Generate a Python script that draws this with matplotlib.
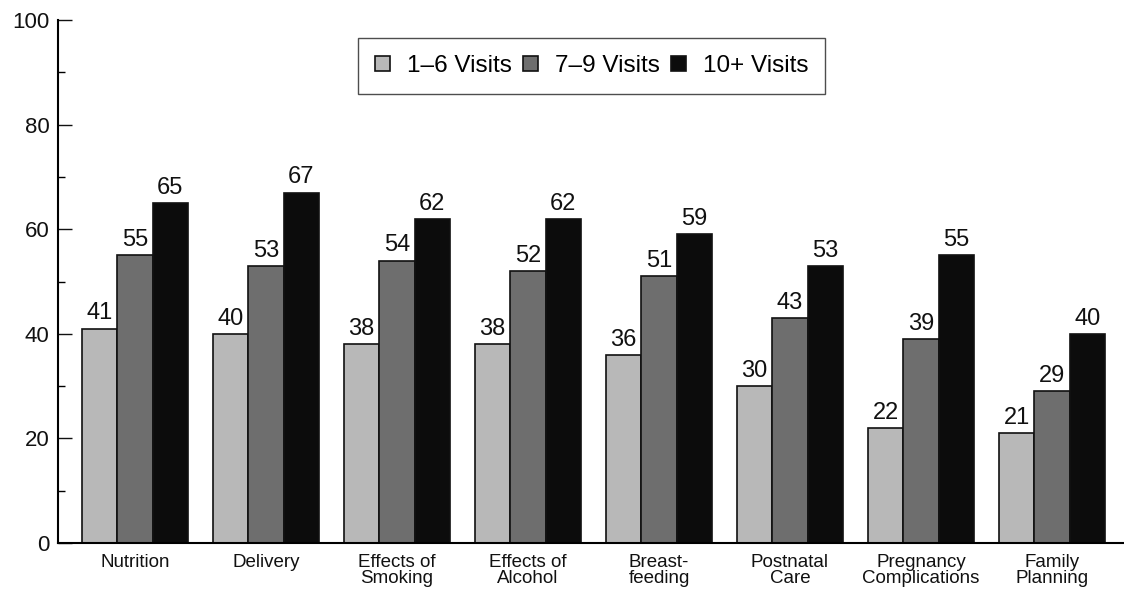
import matplotlib
matplotlib.use("Agg")
import matplotlib.pyplot as plt
import numpy as np

plt.rcParams['font.family'] = ['Liberation Sans', 'DejaVu Sans']

categories = ["Nutrition", "Delivery", "Effects of\nSmoking", "Effects of\nAlcohol",
              "Breast-\nfeeding", "Postnatal\nCare", "Pregnancy\nComplications",
              "Family\nPlanning"]
series_names = ["1\u20136 Visits", "7\u20139 Visits", "10+ Visits"]
visits_1_6 = [41, 40, 38, 38, 36, 30, 22, 21]
visits_7_9 = [55, 53, 54, 52, 51, 43, 39, 29]
visits_10p = [65, 67, 62, 62, 59, 53, 55, 40]
colors = ["#b8b8b8", "#6e6e6e", "#0c0c0c"]

fig = plt.figure(figsize=(11.24, 5.93), dpi=100)
ax = fig.add_axes([58 / 1124, 50 / 593, (1124 - 58) / 1124, 523 / 593])

x = np.arange(len(categories))
width = 0.27
for k, (vals, name, col) in enumerate(zip([visits_1_6, visits_7_9, visits_10p],
                                          series_names, colors)):
    pos = x + (k - 1) * width
    ax.bar(pos, vals, width, color=col, edgecolor="#111111",
           linewidth=1.2, label=name)
    for xi, v in zip(pos, vals):
        ax.text(xi, v + 0.8, str(v), ha="center", va="bottom", fontsize=17,
                color="#111111")

ax.set_xlim(-0.588, 7.55)
ax.set_ylim(0, 100)
ax.set_yticks(np.arange(0, 101, 20))
ax.set_yticks(np.arange(10, 100, 20), minor=True)
ax.tick_params(axis="y", which="major", direction="in", length=10, width=1,
               labelsize=16, pad=6, colors="#111111")
ax.tick_params(axis="y", which="minor", direction="in", length=5, width=1)
ax.set_xticks(x)
ax.set_xticklabels(categories, fontsize=13.5, linespacing=0.92)
ax.tick_params(axis="x", length=0, pad=8, colors="#111111")
for s in ["top", "right"]:
    ax.spines[s].set_visible(False)
ax.spines["left"].set_linewidth(1.5)
ax.spines["bottom"].set_linewidth(1.5)

leg = ax.legend(loc="upper left", bbox_to_anchor=((358 - 58) / 1066, 1 - 18 / 523),
                ncol=3, frameon=True, fancybox=False, fontsize=17.5,
                handlelength=0.62, handleheight=0.62, handletextpad=0.7,
                columnspacing=0.45, borderpad=0.7, borderaxespad=0,
                edgecolor="#222222")
leg.get_frame().set_linewidth(1.0)

fig.savefig("out.png", dpi=100)
